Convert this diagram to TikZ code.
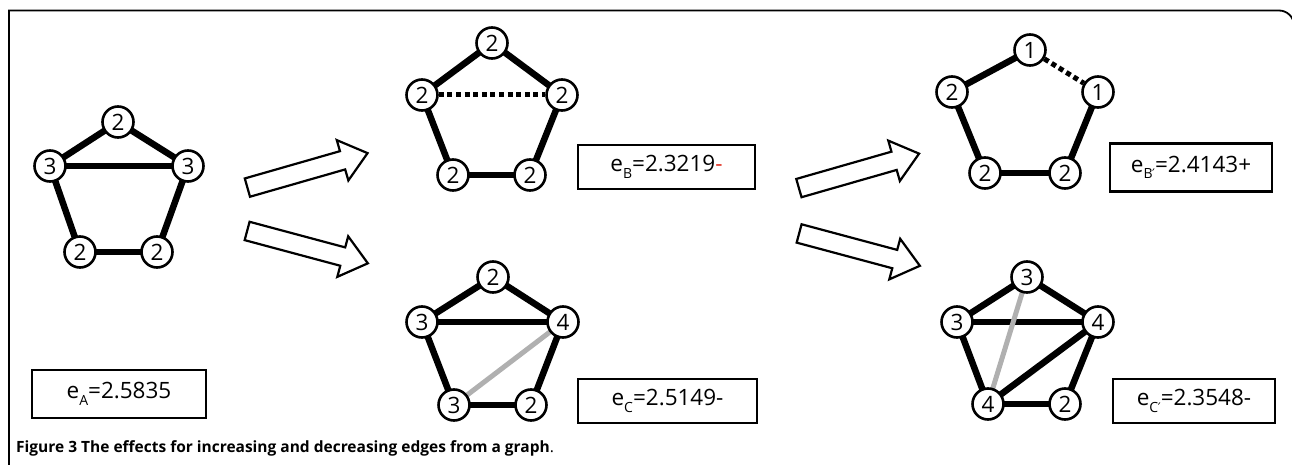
\documentclass[tikz,border=0pt]{standalone}
\usepackage{fontspec}
\setmainfont{Open Sans}
\newfontfamily\primefont{DejaVu Sans}
\usetikzlibrary{backgrounds}
\definecolor{lightedge}{HTML}{B0B0B0}
\definecolor{minusred}{HTML}{E03020}
\newcommand{\subl}[1]{\raisebox{-0.28em}{\fontsize{14}{14}\selectfont #1}}
\newcommand{\primed}{{\primefont\fontsize{13}{13}\selectfont\kern-0.5pt ′}}

\begin{document}
\begin{tikzpicture}[x=1pt,y=-1pt,
  vtx/.style={circle, draw, line width=2.6pt, fill=white, minimum size=31pt,
              inner sep=0pt, font=\fontsize{22.5}{22.5}\selectfont},
  edge/.style={line width=6.5pt},
  dotedge/.style={line width=5pt, dash pattern=on 5pt off 3.6pt},
  grayedge/.style={line width=5pt, draw=lightedge},
  valbox/.style={draw, line width=2.8pt, inner sep=0pt,
                 font=\fontsize{22.5}{22.5}\selectfont},
  blockarrow/.style={draw, line width=2.2pt, fill=white, line join=miter}
]
\useasboundingbox (0,0) rectangle (1292,465);

% frame
\draw[line width=1.8pt] (9,470) -- (9,10.5) -- (1279,10.5)
  arc[start angle=-90, end angle=0, radius=15] -- (1294,470);

% graph A
\node[vtx] (a1) at (118,122) {2};
\node[vtx] (a2) at (50,166) {3};
\node[vtx] (a3) at (188,166) {3};
\node[vtx] (a4) at (80,252) {2};
\node[vtx] (a5) at (157,252) {2};

% graph B
\node[vtx] (b1) at (492,43) {2};
\node[vtx] (b2) at (422,95) {2};
\node[vtx] (b3) at (562,95) {2};
\node[vtx] (b4) at (453,175) {2};
\node[vtx] (b5) at (530,175) {2};

% graph B'
\node[vtx] (p1) at (1030,50) {1};
\node[vtx] (p2) at (952,92) {2};
\node[vtx] (p3) at (1098,92) {1};
\node[vtx] (p4) at (985,173) {2};
\node[vtx] (p5) at (1065,173) {2};

% graph C
\node[vtx] (c1) at (493,277) {2};
\node[vtx] (c2) at (422,322) {3};
\node[vtx] (c3) at (563,322) {4};
\node[vtx] (c4) at (454,405) {3};
\node[vtx] (c5) at (531,405) {2};

% graph C'
\node[vtx] (q1) at (1027,277) {3};
\node[vtx] (q2) at (957,322) {3};
\node[vtx] (q3) at (1098,322) {4};
\node[vtx] (q4) at (988,404) {4};
\node[vtx] (q5) at (1065,404) {2};

\begin{scope}[on background layer]
  % A
  \draw[edge] (a1.center) -- (a2.center);
  \draw[edge] (a1.center) -- (a3.center);
  \draw[edge] (a2.center) -- (a3.center);
  \draw[edge] (a2.center) -- (a4.center);
  \draw[edge] (a3.center) -- (a5.center);
  \draw[edge] (a4.center) -- (a5.center);
  % B
  \draw[edge] (b1.center) -- (b2.center);
  \draw[edge] (b1.center) -- (b3.center);
  \draw[dotedge] (b2.east) -- (b3.west);
  \draw[edge] (b2.center) -- (b4.center);
  \draw[edge] (b3.center) -- (b5.center);
  \draw[edge] (b4.center) -- (b5.center);
  % B'
  \draw[edge] (p1.center) -- (p2.center);
  \draw[dotedge] (p1) -- (p3);
  \draw[edge] (p2.center) -- (p4.center);
  \draw[edge] (p3.center) -- (p5.center);
  \draw[edge] (p4.center) -- (p5.center);
  % C
  \draw[edge] (c1.center) -- (c2.center);
  \draw[edge] (c1.center) -- (c3.center);
  \draw[edge] (c2.center) -- (c3.center);
  \draw[edge] (c2.center) -- (c4.center);
  \draw[edge] (c3.center) -- (c5.center);
  \draw[edge] (c4.center) -- (c5.center);
  \draw[grayedge] (c4.center) -- (c3.center);
  % C'
  \draw[edge] (q1.center) -- (q2.center);
  \draw[edge] (q1.center) -- (q3.center);
  \draw[edge] (q2.center) -- (q3.center);
  \draw[edge] (q2.center) -- (q4.center);
  \draw[edge] (q3.center) -- (q5.center);
  \draw[edge] (q4.center) -- (q5.center);
  \draw[edge] (q4.center) -- (q3.center);
  \draw[grayedge] (q4.center) -- (q1.center);
\end{scope}

% value boxes
\node[valbox, minimum width=174pt, minimum height=48pt] (ea) at (119,394)
  {e\subl{A}=2.5835};
\node[valbox, minimum width=177pt, minimum height=44pt] (eb) at (666.5,167)
  {e\subl{B}=2.3219\textcolor{minusred}{-}};
\node[valbox, minimum width=162pt, minimum height=48pt] (ebp) at (1191,167.5)
  {e\subl{B\primed}=2.4143+};
\node[valbox, minimum width=179pt, minimum height=44pt] (ec) at (667.5,401)
  {e\subl{C}=2.5149-};
\node[valbox, minimum width=162pt, minimum height=44pt] (ecp) at (1194,401)
  {e\subl{C\primed}=2.3548-};

% hollow block arrows
\foreach \pos/\ang in {{(307,170.5)}/16, {(307,247)}/-15,
                       {(858.5,171)}/16, {(859,249.5)}/-15}{
  \draw[blockarrow, shift={\pos}, rotate=\ang]
    (-62,-9.5) -- (37,-9.5) -- (37,-21) -- (63,0) -- (37,21)
    -- (37,9.5) -- (-62,9.5) -- cycle;
}

% caption
\node[anchor=base west, inner sep=0pt, font=\fontsize{15.5}{18}\selectfont]
  (cap) at (16,452)
  {\bfseries Figure 3 The effects for increasing and decreasing edges from a graph\mdseries.};
\end{tikzpicture}
\end{document}
